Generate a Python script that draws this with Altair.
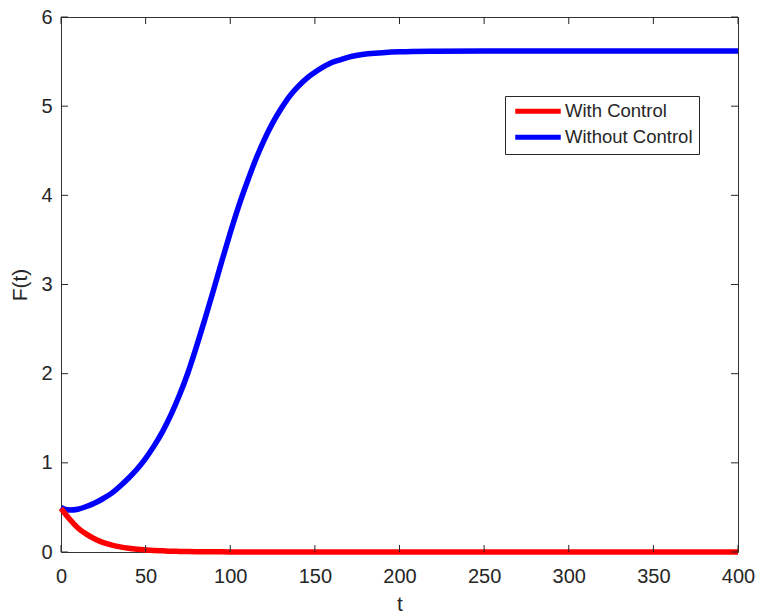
import altair as alt
import pandas as pd

# time grid and the two F(t) trajectories
t_vals = [0, 2, 5, 10, 15, 20, 25, 30, 35, 40, 45, 50, 55, 60, 65, 70, 75, 80,
          85, 90, 95, 100, 105, 110, 115, 120, 125, 130, 135, 140, 145, 150,
          155, 160, 165, 170, 180, 190, 200, 220, 250, 300, 350, 400]

without_control = [0.50, 0.48, 0.47, 0.48, 0.51, 0.55, 0.60, 0.66, 0.74, 0.83,
                   0.93, 1.05, 1.19, 1.35, 1.54, 1.76, 2.01, 2.30, 2.61, 2.93,
                   3.26, 3.58, 3.88, 4.15, 4.40, 4.62, 4.81, 4.97, 5.11, 5.22,
                   5.31, 5.38, 5.44, 5.49, 5.52, 5.55, 5.585, 5.60, 5.61, 5.617,
                   5.62, 5.62, 5.62, 5.62]

with_control = [0.49, 0.44, 0.37, 0.27, 0.20, 0.145, 0.105, 0.078, 0.057, 0.042,
                0.031, 0.023, 0.017, 0.013, 0.009, 0.007, 0.005, 0.004, 0.003,
                0.002, 0.0015, 0.001, 0.0008, 0.0006, 0.0005, 0.0004, 0.0003,
                0.0002, 0.0002, 0.0001, 0.0001, 0.0001, 0.0, 0.0, 0.0, 0.0, 0.0,
                0.0, 0.0, 0.0, 0.0, 0.0, 0.0, 0.0]

series_names = ["With Control", "Without Control"]
series_colors = ["#ff0000", "#0000ff"]

x_ticks = [0, 50, 100, 150, 200, 250, 300, 350, 400]
y_ticks = [0, 1, 2, 3, 4, 5, 6]

W, H = 677, 535
FONT = "Liberation Sans"
TEXT = "#262626"

df_with = pd.DataFrame({"t": t_vals, "F": with_control, "series": series_names[0]})
df_without = pd.DataFrame({"t": t_vals, "F": without_control, "series": series_names[1]})
df_xt = pd.DataFrame({"v": x_ticks})
df_yt = pd.DataFrame({"v": y_ticks})

x_scale = alt.Scale(domain=[0, 400], nice=False, zero=False)
y_scale = alt.Scale(domain=[0, 6], nice=False, zero=False)
color_scale = alt.Scale(domain=series_names, range=series_colors)

x_axis = alt.Axis(values=x_ticks, ticks=False, domain=False, grid=False,
                  labelFlush=False, labelOverlap=False,
                  labelPadding=14, titlePadding=7, title="t")
y_axis = alt.Axis(values=y_ticks, ticks=False, domain=False, grid=False,
                  labelFlush=False, labelOverlap=False,
                  labelPadding=9, titlePadding=10, title="F(t)")

# legend key: a long horizontal stroke drawn from a custom path, so the
# row height stays driven by the label rather than the key length
legend = alt.Legend(orient="none", legendX=444, legendY=79, title=None,
                    symbolType="M-1,0L8.1,0", symbolStrokeWidth=5, symbolSize=100,
                    labelFontSize=18.5, labelFont=FONT, labelColor=TEXT,
                    strokeColor="#262626", fillColor="white", padding=6,
                    rowPadding=5, labelOffset=35.5, cornerRadius=0)


def line_layer(df):
    return alt.Chart(df).mark_line(strokeWidth=5.5, clip=False,
                                   interpolate="monotone").encode(
        x=alt.X("t:Q", scale=x_scale, axis=x_axis),
        y=alt.Y("F:Q", scale=y_scale, axis=y_axis),
        color=alt.Color("series:N", scale=color_scale, legend=legend),
    )


# inward tick marks on all four sides of the box
tick_color = "#262626"
x_bottom = alt.Chart(df_xt).mark_rule(color=tick_color, strokeWidth=1).encode(
    x=alt.X("v:Q", scale=x_scale, axis=x_axis),
    y=alt.value(H), y2=alt.value(H - 7))
x_top = alt.Chart(df_xt).mark_rule(color=tick_color, strokeWidth=1).encode(
    x=alt.X("v:Q", scale=x_scale, axis=x_axis),
    y=alt.value(0), y2=alt.value(7))
y_left = alt.Chart(df_yt).mark_rule(color=tick_color, strokeWidth=1).encode(
    y=alt.Y("v:Q", scale=y_scale, axis=y_axis),
    x=alt.value(0), x2=alt.value(7))
y_right = alt.Chart(df_yt).mark_rule(color=tick_color, strokeWidth=1).encode(
    y=alt.Y("v:Q", scale=y_scale, axis=y_axis),
    x=alt.value(W), x2=alt.value(W - 7))

chart = alt.layer(
    line_layer(df_without), line_layer(df_with),
    x_bottom, x_top, y_left, y_right,
).properties(
    width=W, height=H,
    autosize=alt.AutoSizeParams(type="none"),
    padding={"left": 61, "top": 17, "right": 19, "bottom": 63},
    background="white",
).configure_view(
    stroke="#333333", strokeWidth=1,
).configure_axis(
    labelFont=FONT, labelFontSize=20, labelColor=TEXT,
    titleFont=FONT, titleFontSize=21, titleColor=TEXT, titleFontWeight="normal",
)

chart.save("out.html", embed_options={"renderer": "svg", "actions": False})
